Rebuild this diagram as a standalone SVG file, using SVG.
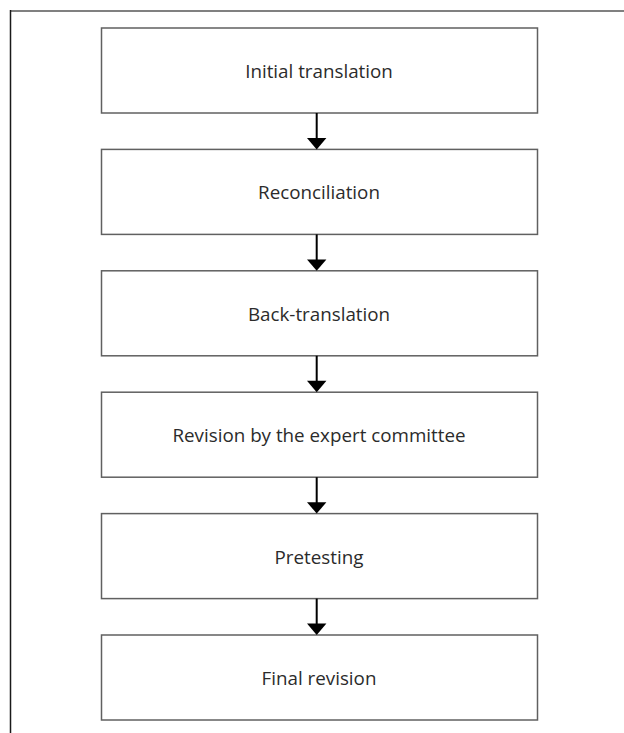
<svg xmlns="http://www.w3.org/2000/svg" width="624" height="733" viewBox="0 0 624 733">
<style>
.box{fill:#fff;stroke:#606060;stroke-width:1.5}
.lbl{font-family:"Open Sans","Liberation Sans",sans-serif;font-size:18.8px;fill:#2b2b2b;text-anchor:middle}
.conn{stroke:#000;stroke-width:2;fill:none}
.head{fill:#000}
</style>
<rect width="624" height="733" fill="#fff"/>
<g id="frame">
<line x1="10" y1="11" x2="624" y2="11" stroke="#808080" stroke-width="2"/>
<line x1="10.5" y1="10" x2="10.5" y2="733" stroke="#1a1a1a" stroke-width="1.5"/>
</g>
<g id="n1"><rect class="box" x="101.5" y="28" width="436" height="85"/><text class="lbl" x="319" y="78">Initial translation</text></g>
<g id="n2"><rect class="box" x="101.5" y="149.4" width="436" height="85"/><text class="lbl" x="319" y="199.4">Reconciliation</text></g>
<g id="n3"><rect class="box" x="101.5" y="270.8" width="436" height="85"/><text class="lbl" x="319" y="320.8">Back-translation</text></g>
<g id="n4"><rect class="box" x="101.5" y="392.2" width="436" height="85"/><text class="lbl" x="319" y="442">Revision by the expert committee</text></g>
<g id="n5"><rect class="box" x="101.5" y="513.6" width="436" height="85"/><text class="lbl" x="319" y="563.6">Pretesting</text></g>
<g id="n6"><rect class="box" x="101.5" y="635" width="436" height="85"/><text class="lbl" x="319" y="685">Final revision</text></g>
<g id="connectors">
<line class="conn" x1="316.7" y1="113" x2="316.7" y2="139"/><polygon class="head" points="307,138 326.4,138 316.7,149.4"/>
<line class="conn" x1="316.7" y1="234.4" x2="316.7" y2="260.4"/><polygon class="head" points="307,259.4 326.4,259.4 316.7,270.8"/>
<line class="conn" x1="316.7" y1="355.8" x2="316.7" y2="381.8"/><polygon class="head" points="307,380.8 326.4,380.8 316.7,392.2"/>
<line class="conn" x1="316.7" y1="477.2" x2="316.7" y2="503.2"/><polygon class="head" points="307,502.2 326.4,502.2 316.7,513.6"/>
<line class="conn" x1="316.7" y1="598.6" x2="316.7" y2="624.6"/><polygon class="head" points="307,623.6 326.4,623.6 316.7,635"/>
</g>
</svg>
